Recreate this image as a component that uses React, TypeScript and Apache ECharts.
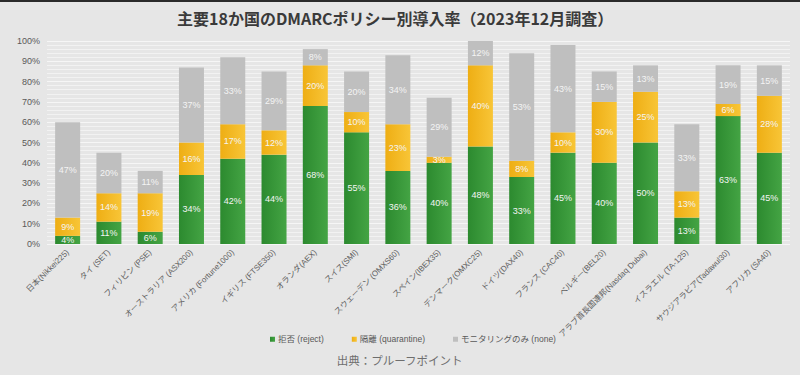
import React, { useEffect, useRef } from "react";
import * as echarts from "echarts";

const categories = [
  "日本(Nikkei225)",
  "タイ (SET)",
  "フィリピン (PSE)",
  "オーストラリア (ASX200)",
  "アメリカ (Fortune1000)",
  "イギリス (FTSE350)",
  "オランダ(AEX)",
  "スイス(SMI)",
  "スウェーデン (OMXS60)",
  "スペイン(IBEX35)",
  "デンマーク(OMXC25)",
  "ドイツ(DAX40)",
  "フランス (CAC40)",
  "ベルギー(BEL20)",
  "アラブ首長国連邦(Nasdaq Dubai)",
  "イスラエル (TA-125)",
  "サウジアラビア(Tadawul30)",
  "アフリカ (SA40)",
];
const rejectVals = [4, 11, 6, 34, 42, 44, 68, 55, 36, 40, 48, 33, 45, 40, 50, 13, 63, 45];
const quarantineVals = [9, 14, 19, 16, 17, 12, 20, 10, 23, 3, 40, 8, 10, 30, 25, 13, 6, 28];
const noneVals = [47, 20, 11, 37, 33, 29, 8, 20, 34, 29, 12, 53, 43, 15, 13, 33, 19, 15];
const seriesNames = ["拒否 (reject)", "隔離 (quarantine)", "モニタリングのみ (none)"];
const yTicks = [0, 10, 20, 30, 40, 50, 60, 70, 80, 90, 100];

const FONT = "'Liberation Sans', 'Noto Sans CJK JP', sans-serif";
const TITLE_FONT = "'Noto Sans CJK JP', sans-serif";

export default function App() {
  const ref = useRef<HTMLDivElement>(null);
  useEffect(() => {
    if (!ref.current) return;
    const chart = echarts.init(ref.current, undefined, { renderer: "svg" });
    const grad = (a: string, b: string) =>
      new echarts.graphic.LinearGradient(0, 0, 1, 0, [
        { offset: 0, color: a },
        { offset: 1, color: b },
      ]);
    const label = {
      show: true,
      position: "inside",
      color: "#f4f4f4",
      fontSize: 9,
      fontFamily: FONT,
      formatter: (p: any) => p.value + "%",
    };
    const mk = (name: string, data: number[], color: any, legendColor: string) => ({
      name,
      type: "bar",
      stack: "total",
      data,
      barWidth: 25,
      itemStyle: { color },
      label,
      emphasis: { disabled: true },
      color: legendColor,
    });
    chart.setOption({
      animation: false,
      backgroundColor: "#e6e6e6",
      textStyle: { fontFamily: FONT },
      title: {
        text: "主要18か国のDMARCポリシー別導入率（2023年12月調査）",
        left: 172,
        top: 5,
        textStyle: { fontSize: 16, fontWeight: "bold", color: "#3a3a3a", fontFamily: TITLE_FONT },
      },
      graphic: [
        { type: "rect", shape: { x: 0, y: 0, width: 800, height: 2 }, style: { fill: "#2a2a2a" } },
        {
          type: "text",
          left: "center",
          top: 354,
          style: { text: "出典：プルーフポイント", fontSize: 11.5, fill: "#6e6e6e", fontFamily: TITLE_FONT },
        },
      ],
      legend: {
        data: seriesNames,
        top: 330,
        left: 265,
        itemWidth: 5,
        itemHeight: 5,
        itemGap: 28,
        icon: "rect",
        textStyle: { fontSize: 8.5, color: "#595959", fontFamily: FONT, padding: [0, 0, 0, -2] },
      },
      grid: { left: 47, right: 10, top: 41, bottom: 131, containLabel: false },
      xAxis: {
        type: "category",
        data: categories,
        axisLine: { show: false },
        axisTick: { show: false },
        axisLabel: {
          rotate: 45,
          interval: 0,
          fontSize: 8,
          color: "#606060",
          fontFamily: FONT,
          margin: 7,
        },
      },
      yAxis: {
        type: "value",
        min: yTicks[0],
        max: yTicks[yTicks.length - 1],
        interval: 10,
        axisLine: { show: false },
        axisTick: { show: false },
        axisLabel: { formatter: "{value}%", fontSize: 9, color: "#595959", fontFamily: FONT, margin: 7 },
        splitLine: { show: true, lineStyle: { color: "#f6f6f6", width: 1 } },
        minorTick: { show: false, splitNumber: 5 },
        minorSplitLine: { show: true, lineStyle: { color: "#f2f2f2", width: 1 } },
      },
      series: [
        mk(seriesNames[0], rejectVals, grad("#2c8a2f", "#44a444"), "#2f8f33"),
        mk(seriesNames[1], quarantineVals, grad("#eeae14", "#f8c537"), "#f0b420"),
        mk(seriesNames[2], noneVals, "#bfbfbf", "#bfbfbf"),
      ],
    });
    return () => chart.dispose();
  }, []);
  return <div ref={ref} style={{ width: 800, height: 375, position: "absolute", left: 0, top: 0 }} />;
}
